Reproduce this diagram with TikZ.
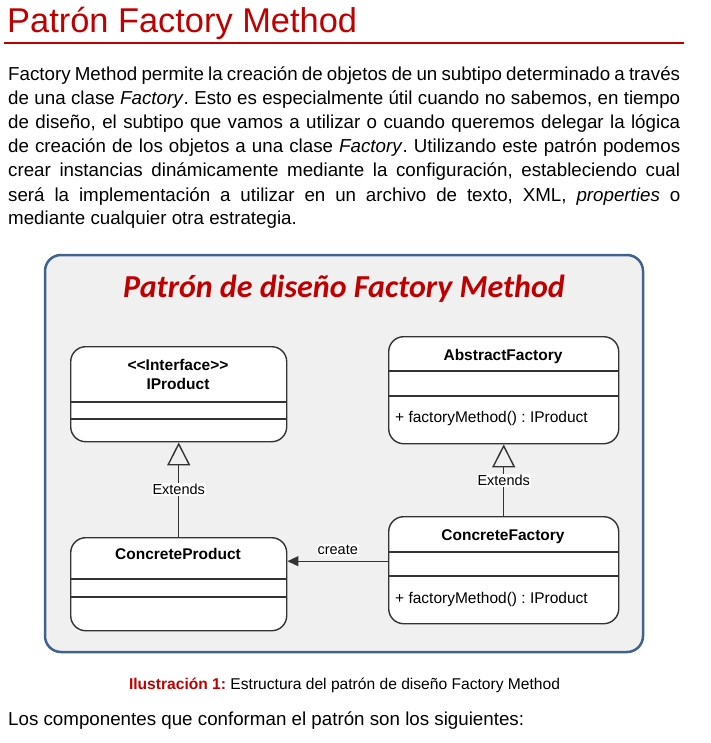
\documentclass[tikz,border=0pt]{standalone}
\usepackage{fontspec}
\setmainfont{Liberation Sans}
\newfontfamily\carlito{Carlito}
\usetikzlibrary{arrows.meta,calc}
\definecolor{hdred}{HTML}{C00000}
\definecolor{framebd}{HTML}{41628F}
\definecolor{framebg}{HTML}{F0F0F0}
\definecolor{umlline}{HTML}{333333}
\frenchspacing
\begin{document}
\begin{tikzpicture}[x=1pt,y=-1pt,
  umlbox/.style={draw=umlline, line width=1.4pt, fill=white, rounded corners=15pt, anchor=north west, inner sep=0pt},
  cname/.style={font=\fontsize{15.5}{18}\selectfont\bfseries, anchor=base, inner sep=0pt},
  meth/.style={font=\fontsize{15.5}{18}\selectfont, anchor=base west, inner sep=0pt},
  lbl/.style={font=\fontsize{14.5}{17}\selectfont, fill=white, inner sep=1pt},
  sep/.style={draw=umlline, line width=1.4pt},
  inherit/.style={draw=umlline, line width=1.4pt, -{Triangle[open, length=23pt, width=23pt, line width=1.4pt]}},
  createarrow/.style={draw=umlline, line width=1.4pt, -{Triangle[length=11pt, width=10pt]}},
  bodyline/.style={anchor=base west, inner sep=0pt, font=\fontsize{18.75}{24}\selectfont},
]
\useasboundingbox (0,0) rectangle (710,743);
\fill[white] (0,0) rectangle (710,743);

% heading
\node[anchor=base west, inner sep=0pt, text=hdred, font=\fontsize{34.4}{40}\selectfont] (title) at (7,33) {Patrón Factory Method};
\draw[hdred, line width=1.3pt] (4,43) -- (684,43);

% paragraph
\node[bodyline] (l1) at (8,81) {\makebox[672pt][s]{Factory Method permite la creación de objetos de un subtipo determinado a través}};
\node[bodyline] (l2) at (8,105) {\makebox[672pt][s]{de una clase \textit{Factory}\/. Esto es especialmente útil cuando no sabemos, en tiempo}};
\node[bodyline] (l3) at (8,129) {\makebox[672pt][s]{de diseño, el subtipo que vamos a utilizar o cuando queremos delegar la lógica}};
\node[bodyline] (l4) at (8,153) {\makebox[672pt][s]{de creación de los objetos a una clase \textit{Factory}\/. Utilizando este patrón podemos}};
\node[bodyline] (l5) at (8,177) {\makebox[672pt][s]{crear instancias dinámicamente mediante la configuración, estableciendo cual}};
\node[bodyline] (l6) at (8,201) {\makebox[672pt][s]{será la implementación a utilizar en un archivo de texto, XML, \textit{properties} o}};
\node[bodyline] (l7) at (8,225) {mediante cualquier otra estrategia.};

% frame
\draw[draw=framebd, fill=framebg, line width=2.5pt, rounded corners=16pt] (45,255) rectangle (643,652);
\node[anchor=base, inner sep=0pt, text=hdred, font=\carlito\bfseries\itshape\fontsize{32}{36}\selectfont] (dtitle) at (344,297) {Patrón de diseño Factory Method};

% IProduct
\node[umlbox, minimum width=216pt, minimum height=95pt] (ip) at (70,346) {};
\draw[sep] (ip.west |- 0,402) -- (ip.east |- 0,402);
\draw[sep] (ip.west |- 0,419) -- (ip.east |- 0,419);
\node[cname] (ipst) at (178,370.5) {{<}{<}Interface{>}{>}};
\node[cname] (ipname) at (178,389) {IProduct};

% AbstractFactory
\node[umlbox, minimum width=230pt, minimum height=107pt] (af) at (388,336) {};
\draw[sep] (af.west |- 0,371) -- (af.east |- 0,371);
\draw[sep] (af.west |- 0,396) -- (af.east |- 0,396);
\node[cname] (afname) at (503,360) {AbstractFactory};
\node[meth] (afm) at (395,422.5) {+ factoryMethod() : IProduct};

% ConcreteProduct
\node[umlbox, minimum width=216pt, minimum height=93pt] (cp) at (70,537) {};
\draw[sep] (cp.west |- 0,579) -- (cp.east |- 0,579);
\draw[sep] (cp.west |- 0,597) -- (cp.east |- 0,597);
\node[cname] (cpname) at (178,559) {ConcreteProduct};

% ConcreteFactory
\node[umlbox, minimum width=230pt, minimum height=107pt] (cf) at (388,516) {};
\draw[sep] (cf.west |- 0,552) -- (cf.east |- 0,552);
\draw[sep] (cf.west |- 0,576) -- (cf.east |- 0,576);
\node[cname] (cfname) at (503,540) {ConcreteFactory};
\node[meth] (cfm) at (395,603.5) {+ factoryMethod() : IProduct};

% connectors
\draw[inherit] (cp.north) -- node[lbl] {Extends} (ip.south);
\draw[inherit] (cf.north) -- node[lbl] {Extends} (af.south);
\draw[createarrow] ([yshift=9pt]cf.west) -- node[lbl, above=5pt] {create} ([yshift=9pt]cf.west -| cp.east);

% caption
\node[anchor=base, inner sep=0pt, font=\fontsize{15.6}{18}\selectfont] (cap) at (344.5,689) {\textcolor{hdred}{\textbf{Ilustración 1:}} Estructura del patrón de diseño Factory Method};
\node[bodyline] (last) at (8,725) {Los componentes que conforman el patrón son los siguientes:};
\end{tikzpicture}
\end{document}
